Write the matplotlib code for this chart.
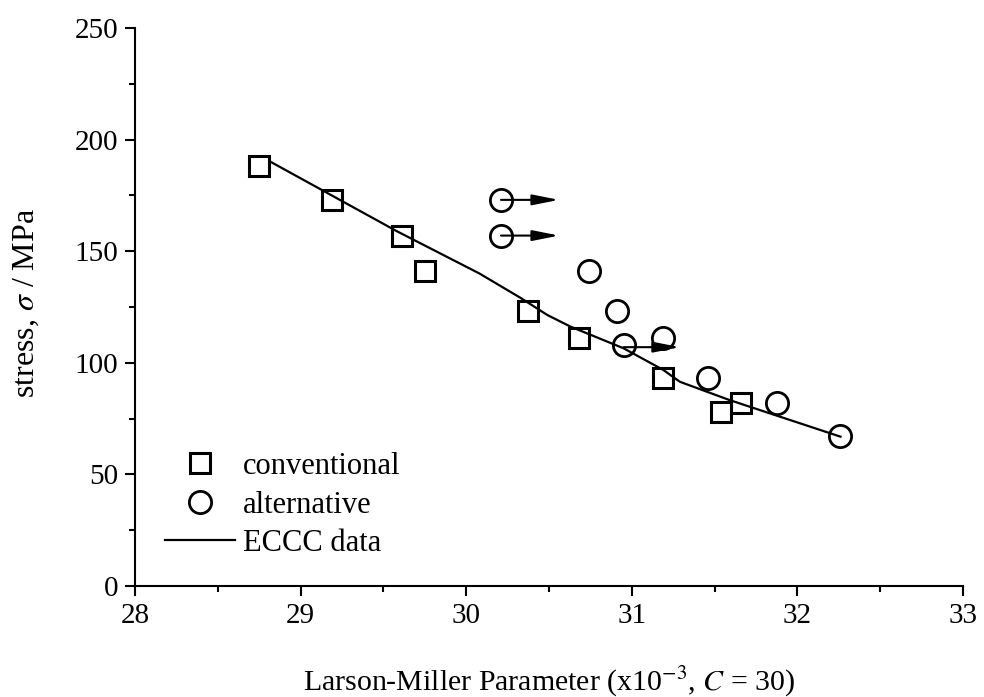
import matplotlib
matplotlib.use("Agg")
import matplotlib.pyplot as plt

plt.rcParams["font.family"] = "Liberation Serif"
plt.rcParams["mathtext.fontset"] = "stix"

# conventional test results
conv_lmp = [28.75, 29.19, 29.61, 29.75, 30.375, 30.68, 31.19, 31.54, 31.66]
conv_stress = [188, 173, 157, 141, 123, 111, 93, 78, 82]

# alternative test results
alt_lmp = [30.21, 30.21, 30.74, 30.91, 30.95, 31.19, 31.46, 31.875, 32.26]
alt_stress = [173, 157, 141, 123, 108, 111, 93, 82, 67]

# runout arrows (start lmp, end lmp, stress)
arrow_start = [30.21, 30.21, 30.95]
arrow_end = [30.56, 30.56, 31.29]
arrow_stress = [173, 157, 107]

# ECCC data curve
eccc_lmp = [28.82, 29.58, 30.08, 30.33, 30.49, 30.63, 30.95, 31.19, 31.29, 31.59, 32.26]
eccc_stress = [190, 159, 140, 129, 121.4, 116.2, 106.5, 96.8, 91.5, 83.3, 66.9]

fig = plt.figure(figsize=(9.84, 6.97), dpi=100)
ax = fig.add_axes([0.1372, 0.1593, 0.8415, 0.8005])

ax.plot(conv_lmp, conv_stress, "s", ms=14.5, mfc="none", mec="black", mew=2.2,
        label="conventional")
ax.plot(alt_lmp, alt_stress, "o", ms=16, mfc="none", mec="black", mew=2,
        label="alternative")
ax.plot(eccc_lmp, eccc_stress, "-", color="black", lw=1.6, label="ECCC data")

for x0, x1, s in zip(arrow_start, arrow_end, arrow_stress):
    ax.annotate("", xy=(x1, s), xytext=(x0, s),
                arrowprops=dict(arrowstyle="-|>,head_length=0.8,head_width=0.16",
                                color="black", lw=1.5, mutation_scale=20,
                                shrinkA=0, shrinkB=0))

ax.set_xlim(28, 33)
ax.set_ylim(0, 250)
ax.set_xticks([28, 29, 30, 31, 32, 33])
ax.set_xticks([28.5, 29.5, 30.5, 31.5, 32.5], minor=True)
ax.set_yticks([0, 50, 100, 150, 200, 250])
ax.set_yticks([25, 75, 125, 175, 225], minor=True)

for side in ["top", "right"]:
    ax.spines[side].set_visible(False)
for side in ["left", "bottom"]:
    ax.spines[side].set_linewidth(1.5)

ax.tick_params(which="major", direction="out", length=7, width=1.5, labelsize=21, pad=5)
ax.tick_params(which="minor", direction="out", length=4, width=1.5)

ax.set_xlabel("Larson-Miller Parameter (x10$^{-3}$, $C$ = 30)", fontsize=21.5, labelpad=26)
ax.set_ylabel("stress, $\\sigma$ / MPa", fontsize=23)
ax.yaxis.set_label_coords(-0.1135, 0.508)

ax.legend(loc="lower left", bbox_to_anchor=(0.036, 0.05), frameon=False,
          fontsize=22, borderpad=0, borderaxespad=0, handlelength=2.3,
          handletextpad=0.26, labelspacing=0.31)

fig.savefig("out.png", dpi=100)
